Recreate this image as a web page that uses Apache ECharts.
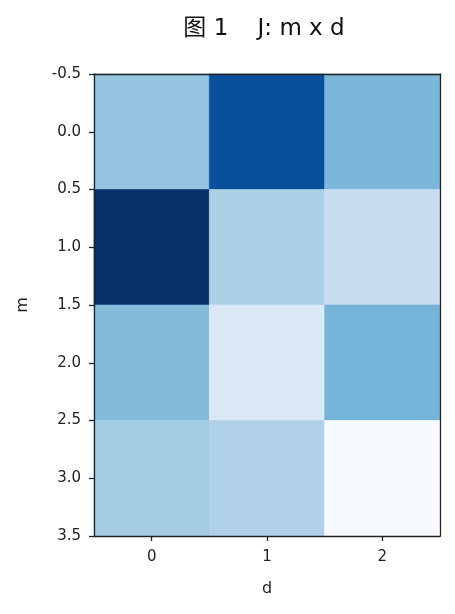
<!DOCTYPE html>
<html>
<head>
<meta charset="utf-8">
<script src="https://cdn.jsdelivr.net/npm/echarts@6/dist/echarts.min.js"></script>
<style>
html, body { margin: 0; padding: 0; background: #fff; }
#chart { width: 455px; height: 614px; }
</style>
</head>
<body>
<div id="chart"></div>
<script>
// matrix J (rows = m, columns = d), values
var colsD = [0, 1, 2];
var rowsM = [0, 1, 2, 3];
var row0 = [0.40, 0.88, 0.46];
var row1 = [1.00, 0.33, 0.245];
var row2 = [0.44, 0.14, 0.475];
var row3 = [0.36, 0.32, 0.00];
var xTicks = [0, 1, 2];
var blues = ['#f7fbff', '#deebf7', '#c6dbef', '#9ecae1', '#6baed6', '#4292c6', '#2171b5', '#08519c', '#08306b'];

var matrix = [row0, row1, row2, row3];
var cells = [];
rowsM.forEach(function (m) {
	colsD.forEach(function (d) {
		cells.push([d, m, matrix[m][d]]);
	});
});

var font = "'DejaVu Sans', 'Noto Sans CJK SC', sans-serif";
var ink = '#222';

var chart = echarts.init(document.getElementById('chart'));
var option = {
	backgroundColor: '#fff',
	animation: false,
	title: {
		text: '图 1    J: m x d',
		left: 259,
		textAlign: 'center',
		top: 13,
		textStyle: { fontFamily: font, fontSize: 23, fontWeight: 'normal', color: '#111' }
	},
	grid: { left: 94, right: 15, top: 74, bottom: 78 },
	visualMap: {
		show: false,
		type: 'continuous',
		min: 0,
		max: 1,
		dimension: 2,
		seriesIndex: 0,
		inRange: { color: blues }
	},
	xAxis: [{
		type: 'value',
		min: -0.5,
		max: 2.5,
		z: 5,
		name: 'd',
		nameLocation: 'middle',
		nameGap: 45,
		nameTextStyle: { fontFamily: font, fontSize: 16, color: ink },
		splitLine: { show: false },
		axisLine: { show: true, onZero: false, lineStyle: { color: ink, width: 1.3 } },
		axisTick: { show: true, customValues: xTicks, length: 5, lineStyle: { color: ink, width: 1.3 } },
		axisLabel: { customValues: xTicks, fontFamily: font, fontSize: 15, color: ink, margin: 14 }
	}, {
		type: 'value',
		position: 'top',
		min: -0.5,
		max: 2.5,
		z: 5,
		splitLine: { show: false },
		axisLine: { show: true, onZero: false, lineStyle: { color: ink, width: 1.3 } },
		axisTick: { show: false },
		axisLabel: { show: false }
	}],
	yAxis: [{
		type: 'value',
		inverse: true,
		min: -0.5,
		max: 3.5,
		interval: 0.5,
		z: 5,
		name: 'm',
		nameLocation: 'middle',
		nameGap: 63,
		nameTextStyle: { fontFamily: font, fontSize: 16, color: ink },
		splitLine: { show: false },
		axisLine: { show: true, onZero: false, lineStyle: { color: ink, width: 1.3 } },
		axisTick: { show: true, length: 5, lineStyle: { color: ink, width: 1.3 } },
		axisLabel: {
			fontFamily: font, fontSize: 15, color: ink, margin: 13,
			formatter: function (v) { return v.toFixed(1); }
		}
	}, {
		type: 'value',
		position: 'right',
		inverse: true,
		min: -0.5,
		max: 3.5,
		z: 5,
		splitLine: { show: false },
		axisLine: { show: true, onZero: false, lineStyle: { color: ink, width: 1.3 } },
		axisTick: { show: false },
		axisLabel: { show: false }
	}],
	series: [{
		type: 'custom',
		z: 1,
		data: cells,
		encode: { x: 0, y: 1 },
		renderItem: function (params, api) {
			var d = api.value(0), m = api.value(1);
			var p0 = api.coord([d - 0.5, m - 0.5]);
			var p1 = api.coord([d + 0.5, m + 0.5]);
			var c = api.visual('color');
			return {
				type: 'rect',
				shape: {
					x: Math.min(p0[0], p1[0]),
					y: Math.min(p0[1], p1[1]),
					width: Math.abs(p1[0] - p0[0]),
					height: Math.abs(p1[1] - p0[1])
				},
				style: { fill: c, stroke: c, lineWidth: 0.6 }
			};
		}
	}]
};
chart.setOption(option);
</script>
</body>
</html>
